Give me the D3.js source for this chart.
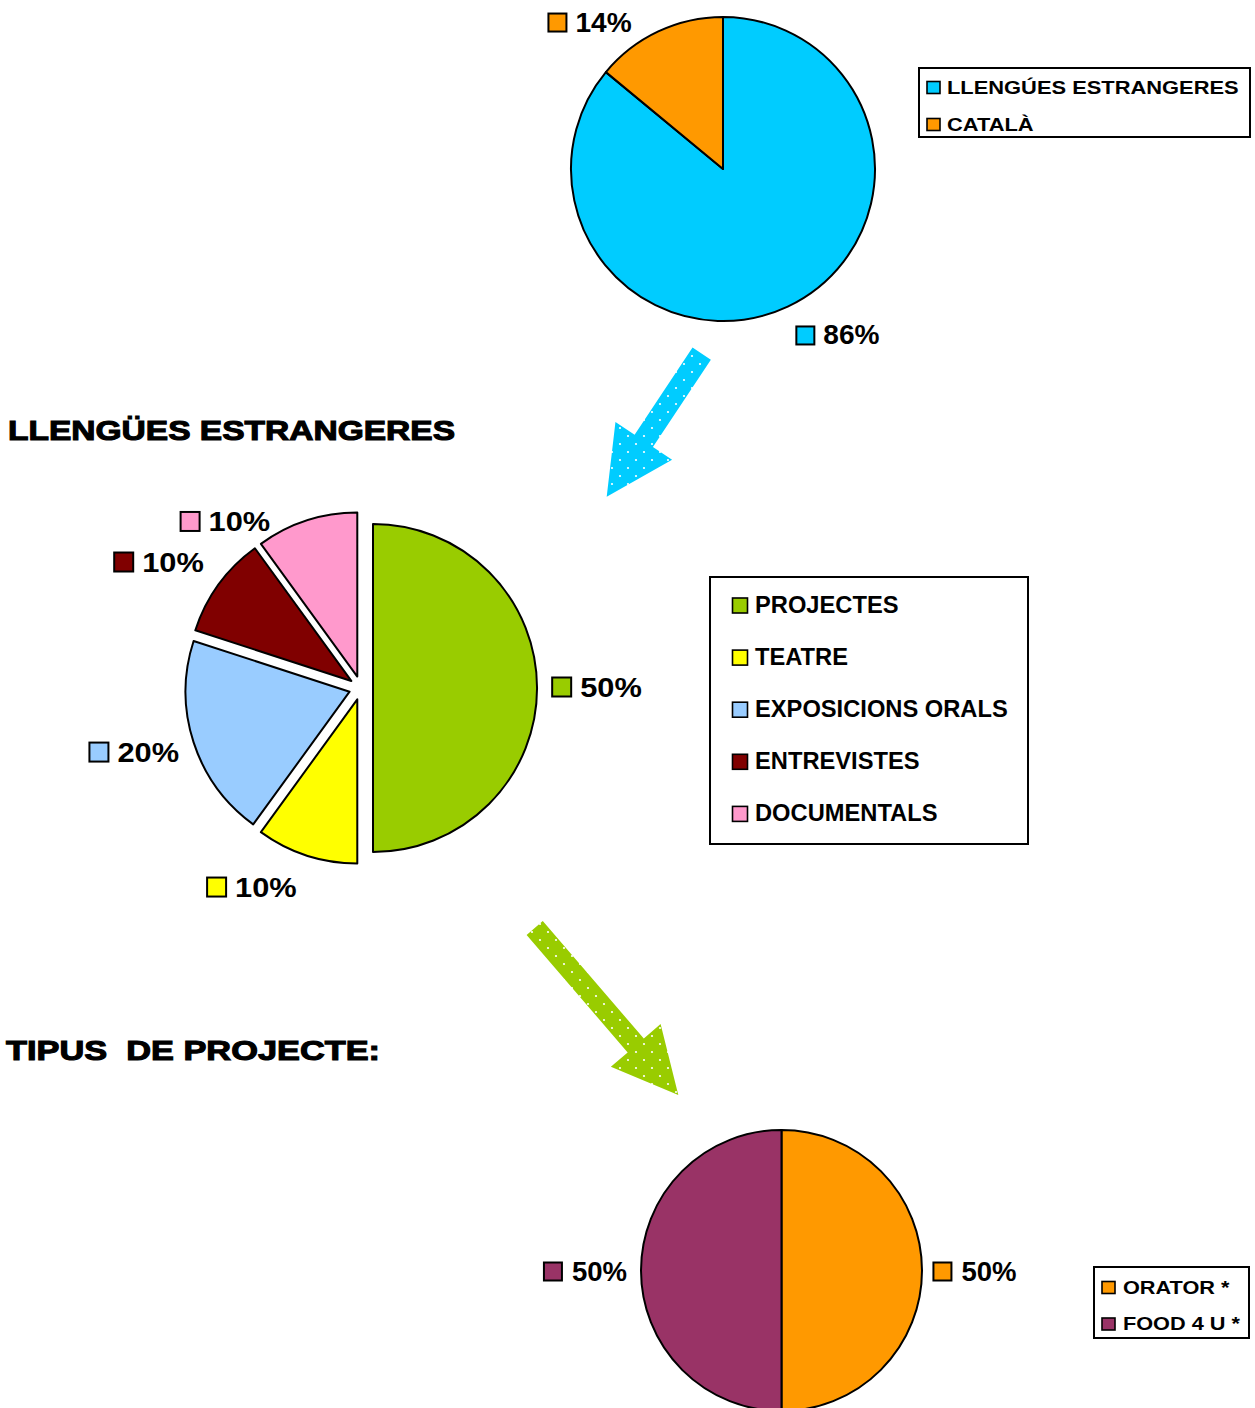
<!DOCTYPE html>
<html><head><meta charset="utf-8">
<script src="https://cdn.jsdelivr.net/npm/d3@7"></script>
<style>body{margin:0;background:#fff} svg{display:block}</style>
</head><body><svg id="c" width="1255" height="1408"></svg>
<script>
// ---------- DATA ----------
const langCategories = ["LLENGÚES ESTRANGERES", "CATALÀ"];
const langValues = [86, 14];
const activityCategories = ["PROJECTES", "TEATRE", "EXPOSICIONS ORALS", "ENTREVISTES", "DOCUMENTALS"];
const activityValues = [50, 10, 20, 10, 10];
const projectCategories = ["ORATOR *", "FOOD 4 U *"];
const projectValues = [50, 50];
const titleTexts = ["LLENGÜES ESTRANGERES", "TIPUS  DE PROJECTE:"];

// ---------- STYLE / LAYOUT ----------
const langColors = ["#00CCFF", "#FF9900"];
const activityColors = ["#99CC00", "#FFFF00", "#99CCFF", "#800000", "#FF99CC"];
const projectColors = ["#FF9900", "#993366"];
const FONT = "'Liberation Sans', Arial, Helvetica, sans-serif";

const svg = d3.select("#c");
const defs = svg.append("defs");

function dotPattern(id, color) {
  const p = defs.append("pattern").attr("id", id).attr("patternUnits", "userSpaceOnUse")
    .attr("width", 16).attr("height", 16);
  p.append("rect").attr("width", 16).attr("height", 16).attr("fill", color);
  [[4, 4], [12, 12]].forEach(([x, y]) =>
    p.append("circle").attr("cx", x).attr("cy", y).attr("r", 1.1).attr("fill", "#fff"));
}
dotPattern("dotsCyan", "#00CCFF");
dotPattern("dotsGreen", "#99CC00");

function arrowPath(tail, tip, shaftW, headW, headL) {
  const dx = tip[0] - tail[0], dy = tip[1] - tail[1];
  const L = Math.hypot(dx, dy), ux = dx / L, uy = dy / L, px = -uy, py = ux;
  const bx = tip[0] - ux * headL, by = tip[1] - uy * headL;
  const pts = [
    [tail[0] + px * shaftW / 2, tail[1] + py * shaftW / 2],
    [bx + px * shaftW / 2, by + py * shaftW / 2],
    [bx + px * headW / 2, by + py * headW / 2],
    tip,
    [bx - px * headW / 2, by - py * headW / 2],
    [bx - px * shaftW / 2, by - py * shaftW / 2],
    [tail[0] - px * shaftW / 2, tail[1] - py * shaftW / 2]
  ];
  return d3.line()(pts) + "Z";
}
svg.append("path").attr("d", arrowPath([701.7, 353.7], [606.7, 496.7], 22, 68, 67)).attr("fill", "url(#dotsCyan)");
svg.append("path").attr("d", arrowPath([534.7, 928], [678.3, 1095], 21.3, 65.6, 65.3)).attr("fill", "url(#dotsGreen)");

// titles
const titleLayout = [{x: 8, y: 440, len: 447}, {x: 6, y: 1060, len: 374}];
titleTexts.forEach((t, i) => {
  svg.append("text").attr("x", titleLayout[i].x).attr("y", titleLayout[i].y)
    .attr("font-family", FONT).attr("font-weight", "bold").attr("font-size", 28)
    .attr("stroke", "#000").attr("stroke-width", 1.1).attr("fill", "#000")
    .style("white-space", "pre")
    .attr("textLength", titleLayout[i].len).attr("lengthAdjust", "spacingAndGlyphs")
    .text(t);
});

function drawPie(o) {
  const g = svg.append("g").attr("transform", `translate(${o.cx},${o.cy})`);
  const pie = d3.pie().sort(null).value(d => d.v);
  const data = pie(o.vals.map((v, i) => ({v, c: o.cats[i], col: o.colors[i]})));
  const arc = d3.arc().innerRadius(0).outerRadius(o.r);
  const mid = d => (d.startAngle + d.endAngle) / 2;
  g.selectAll("path.slice").data(data).join("path").attr("class", "slice")
    .attr("transform", d => `translate(${Math.sin(mid(d)) * o.explode},${-Math.cos(mid(d)) * o.explode})`)
    .attr("d", arc).attr("fill", d => d.data.col)
    .attr("stroke", "#000").attr("stroke-width", 2).attr("stroke-linejoin", "round");
  const total = d3.sum(o.vals);
  const fmt = d3.format(".0%");
  const labelArc = d3.arc().innerRadius(o.labelR).outerRadius(o.labelR);
  data.forEach((d, i) => {
    const [x, y] = labelArc.centroid(d);
    const cx = x + o.nudges[i][0], cy = y + o.nudges[i][1];
    const lg = g.append("g");
    const t = lg.append("text").attr("font-family", FONT).attr("font-weight", "bold")
      .attr("font-size", o.fs).attr("fill", "#000").text(fmt(d.data.v / total));
    const tw = t.node().getComputedTextLength() * o.stretch;
    t.attr("textLength", tw).attr("lengthAdjust", "spacingAndGlyphs");
    const w = o.sq + o.gap + tw;
    const left = cx - w / 2;
    lg.insert("rect", "text").attr("x", left).attr("y", cy - o.sq / 2)
      .attr("width", o.sq).attr("height", o.sq)
      .attr("fill", d.data.col).attr("stroke", "#000").attr("stroke-width", 2);
    t.attr("x", left + o.sq + o.gap).attr("y", cy + o.sq / 2);
  });
}

function drawLegend(o) {
  const g = svg.append("g");
  g.append("rect").attr("x", o.x).attr("y", o.y).attr("width", o.w).attr("height", o.h)
    .attr("fill", "#fff").attr("stroke", "#000").attr("stroke-width", 2);
  o.cats.forEach((c, i) => {
    const base = o.base0 + i * o.step;
    g.append("rect").attr("x", o.sqX).attr("y", base - o.sqH).attr("width", o.sqW).attr("height", o.sqH)
      .attr("fill", o.colors[i]).attr("stroke", "#000").attr("stroke-width", 1.6);
    const t = g.append("text").attr("x", o.textX).attr("y", base)
      .attr("font-family", FONT).attr("font-weight", "bold").attr("font-size", o.fs)
      .attr("fill", "#000").style("white-space", "pre").text(c);
    if (o.stretch !== 1) {
      t.attr("textLength", t.node().getComputedTextLength() * o.stretch).attr("lengthAdjust", "spacingAndGlyphs");
    }
  });
}

// Pie 1
drawPie({cx: 723, cy: 169, r: 152, explode: 0, cats: langCategories, vals: langValues, colors: langColors,
  labelR: 200, nudges: [[29.8, -14.5], [-47.8, 34.5]], sq: 18, gap: 9, fs: 27, stretch: 1.04});
drawLegend({x: 919, y: 68, w: 331, h: 69, cats: langCategories, colors: langColors,
  sqX: 927, sqW: 13, sqH: 12, textX: 947, base0: 93.5, step: 37, fs: 18, stretch: 1.215});

// Pie 2
drawPie({cx: 361, cy: 688, r: 164, explode: 12, cats: activityCategories, vals: activityValues, colors: activityColors,
  labelR: 230, nudges: [[6, -1], [-38, -19.7], [-8, -7], [-15.9, 9.2], [-64.5, 52.2]], sq: 19, gap: 9, fs: 28, stretch: 1.1});
drawLegend({x: 710, y: 577, w: 318, h: 267, cats: activityCategories, colors: activityColors,
  sqX: 732.5, sqW: 15, sqH: 15, textX: 755, base0: 613, step: 52.1, fs: 23.7, stretch: 1});

// Pie 3
drawPie({cx: 781.5, cy: 1270.5, r: 140.5, explode: 0, cats: projectCategories, vals: projectValues, colors: projectColors,
  labelR: 195, nudges: [[-1.5, 1], [-1, 1]], sq: 18, gap: 10, fs: 27, stretch: 1.02});
drawLegend({x: 1094, y: 1267, w: 155, h: 71, cats: projectCategories, colors: projectColors,
  sqX: 1102, sqW: 13, sqH: 12, textX: 1123, base0: 1293.5, step: 36.5, fs: 18, stretch: 1.205});
</script></body></html>
